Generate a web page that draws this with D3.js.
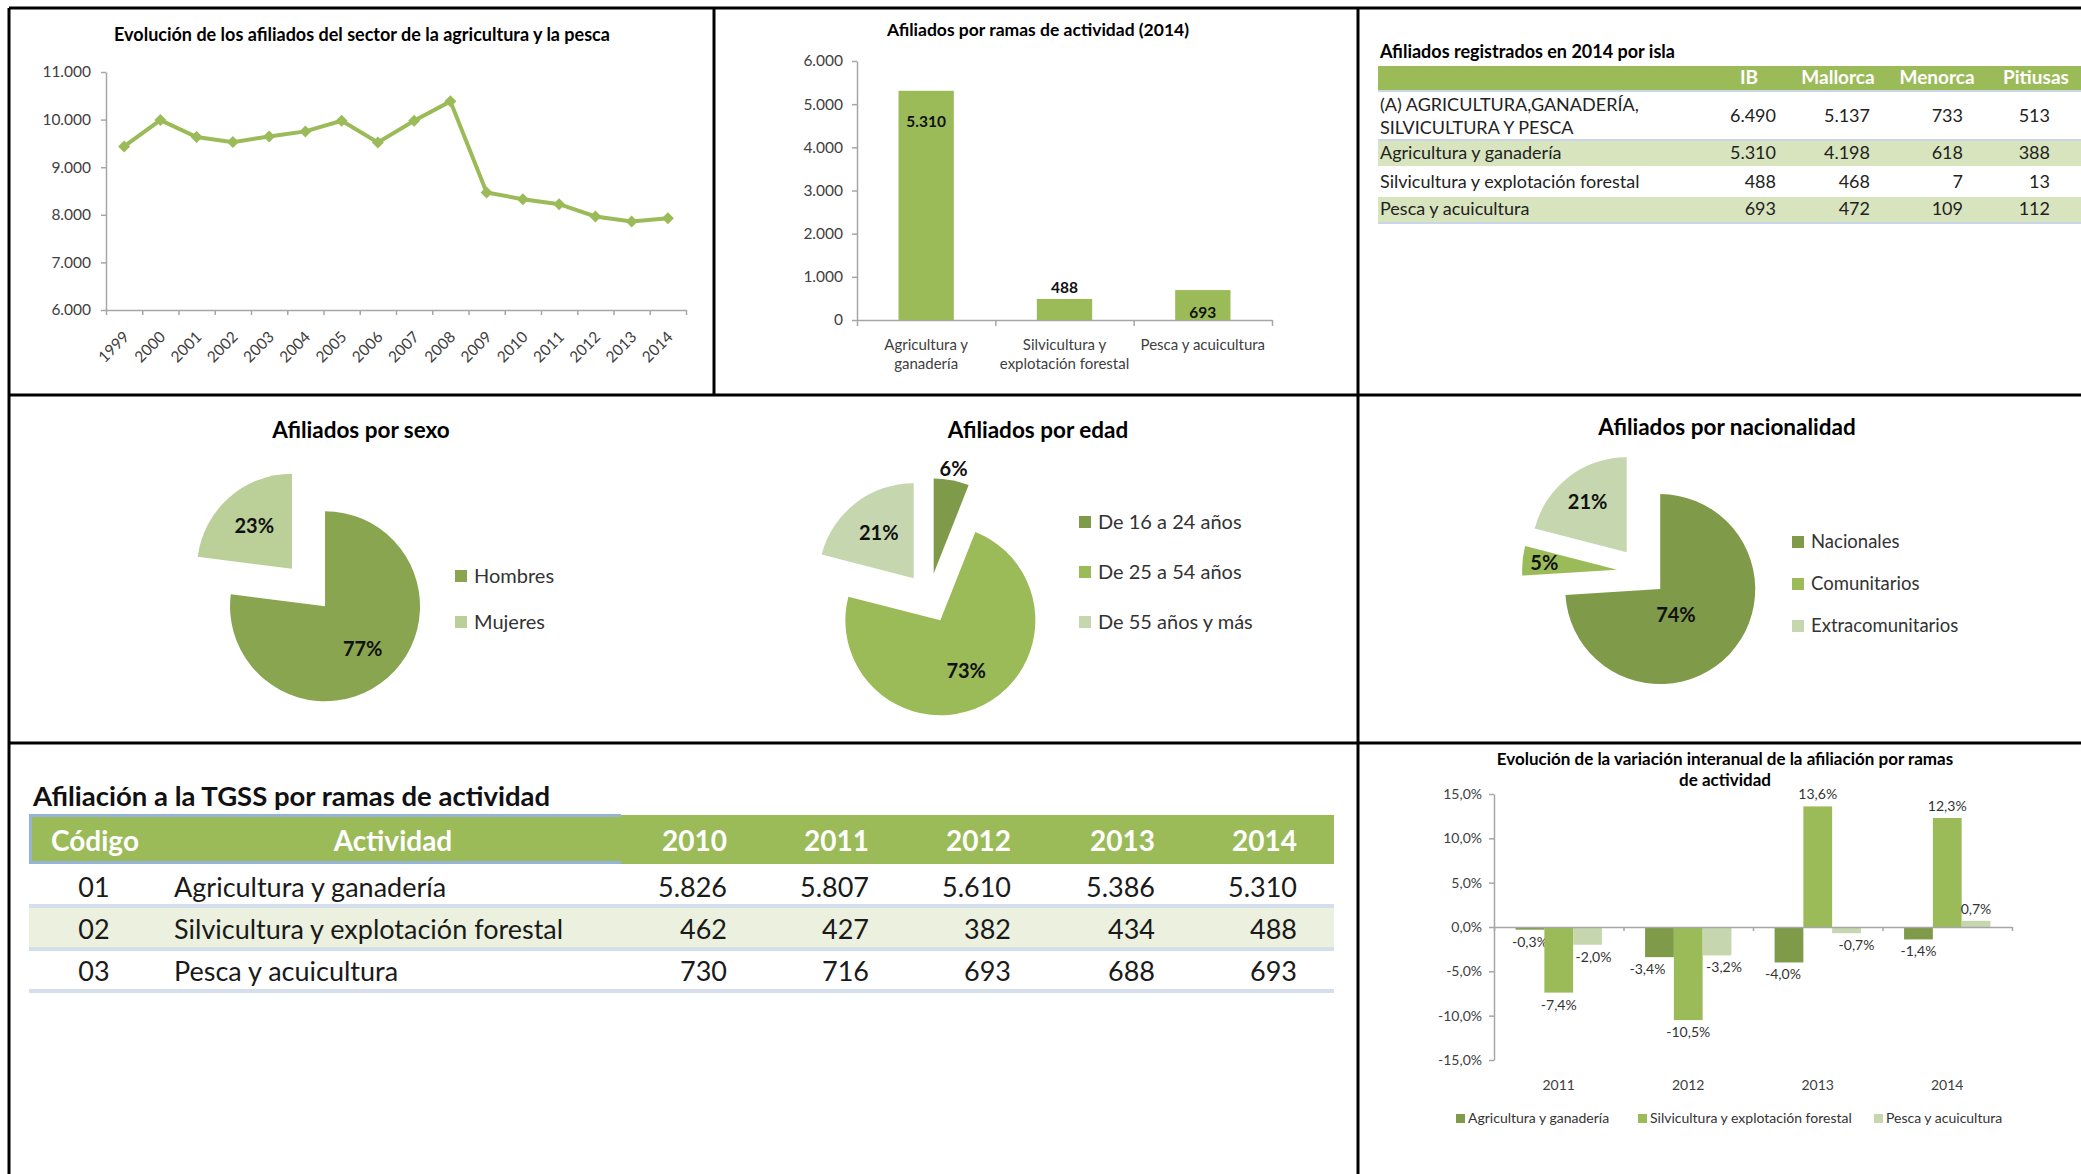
<!DOCTYPE html>
<html>
<head>
<meta charset="utf-8">
<script src="https://cdnjs.cloudflare.com/ajax/libs/d3/7.8.5/d3.min.js"></script>
<style>
  body { margin: 0; background: #fff; }
  svg { display: block; font-family: Lato, "Open Sans", sans-serif; }
</style>
</head>
<body>
<script>
// ---- data ----
var years = ["1999","2000","2001","2002","2003","2004","2005","2006","2007","2008","2009","2010","2011","2012","2013","2014"];
var afiliados = [9436, 9990, 9633, 9527, 9647, 9752, 9976, 9520, 9976, 10383, 8468, 8328, 8223, 7964, 7858, 7928];

var ramas = ["Agricultura y ganadería", "Silvicultura y explotación forestal", "Pesca y acuicultura"];
var ramasLines = [["Agricultura y", "ganadería"], ["Silvicultura y", "explotación forestal"], ["Pesca y acuicultura"]];
var ramas2014 = [5310, 488, 693];

var islas = ["IB", "Mallorca", "Menorca", "Pitiusas"];
var islaRowLines = [["(A) AGRICULTURA,GANADERÍA,", "SILVICULTURA Y PESCA"], ["Agricultura y ganadería"], ["Silvicultura y explotación forestal"], ["Pesca y acuicultura"]];
var islaValues = [[6490, 5137, 733, 513], [5310, 4198, 618, 388], [488, 468, 7, 13], [693, 472, 109, 112]];

var sexo = ["Hombres", "Mujeres"];
var sexoPct = [77, 23];
var edad = ["De 16 a 24 años", "De 25 a 54 años", "De 55 años y más"];
var edadPct = [6, 73, 21];
var nacionalidad = ["Nacionales", "Comunitarios", "Extracomunitarios"];
var nacionalidadPct = [74, 5, 21];

var tgssCodes = ["01", "02", "03"];
var tgssYears = ["2010", "2011", "2012", "2013", "2014"];
var tgssValues = [[5826, 5807, 5610, 5386, 5310], [462, 427, 382, 434, 488], [730, 716, 693, 688, 693]];

var varYears = ["2011", "2012", "2013", "2014"];
var varAgri = [-0.3, -3.4, -4.0, -1.4];
var varSilvi = [-7.4, -10.5, 13.6, 12.3];
var varPesca = [-2.0, -3.2, -0.7, 0.7];

// ---- setup ----
var green = "#9BBB59", dark = "#7F9A48", light = "#C6D6AF";
var axisGrey = "#A6A6A6", tickText = "#404040";

var es = d3.formatLocale({decimal: ",", thousands: ".", grouping: [3], currency: ["", " €"], minus: "-"});
var fmtInt = es.format(",d");
var fmtPct = function(v) { return es.format(".1f")(v) + "%"; };

var svg = d3.select("body").append("svg")
  .attr("width", 2081)
  .attr("height", 1174);

function styleAxis(g, fs) {
  g.attr("font-family", null).attr("font-size", null);
  g.select(".domain").attr("stroke", axisGrey).attr("stroke-width", 1.5);
  g.selectAll(".tick line").attr("stroke", axisGrey).attr("stroke-width", 1.5);
  g.selectAll(".tick text").attr("fill", tickText).style("font-size", fs + "px");
}

function title(x, y, txt, fs) {
  svg.append("text")
    .attr("x", x).attr("y", y)
    .attr("text-anchor", "middle")
    .attr("font-weight", 700)
    .attr("font-size", fs)
    .attr("fill", "#000")
    .text(txt);
}

// panel borders
var borders = [[9, 8, 2081, 8], [9, 8, 9, 1174], [714, 8, 714, 395], [1358, 8, 1358, 1174], [9, 395, 2081, 395], [9, 743, 2081, 743]];
svg.selectAll("line.border")
  .data(borders)
  .enter().append("line")
  .attr("x1", d => d[0]).attr("y1", d => d[1])
  .attr("x2", d => d[2]).attr("y2", d => d[3])
  .attr("stroke", "#000").attr("stroke-width", 3);

// ---- 1. line chart ----
title(362, 41, "Evolución de los afiliados del sector de la agricultura y la pesca", 18);

var xLine = d3.scaleBand().domain(years).range([106, 686]);
var yLine = d3.scaleLinear().domain([6000, 11000]).range([310, 72]);

svg.append("g")
  .attr("transform", "translate(106,0)")
  .call(d3.axisLeft(yLine).tickValues(d3.range(6000, 11001, 1000)).tickFormat(fmtInt).tickSize(5).tickPadding(10).tickSizeOuter(0))
  .call(styleAxis, 15.5);

var xIdx = d3.scaleLinear().domain([0, years.length]).range(xLine.range());
svg.append("g")
  .attr("transform", "translate(0,310)")
  .call(d3.axisBottom(xIdx).tickValues(d3.range(years.length + 1)).tickFormat("").tickSize(5).tickSizeOuter(0))
  .call(styleAxis, 14);

svg.selectAll("text.year")
  .data(years)
  .enter().append("text")
  .attr("transform", d => `translate(${xLine(d) + xLine.bandwidth() / 2 + 6},${338}) rotate(-45)`)
  .attr("text-anchor", "end")
  .attr("font-size", 15.5)
  .attr("fill", tickText)
  .text(d => d);

var cx = (d, i) => xLine(years[i]) + xLine.bandwidth() / 2;
svg.append("path")
  .datum(afiliados)
  .attr("d", d3.line().x(cx).y(d => yLine(d)))
  .attr("fill", "none")
  .attr("stroke", green)
  .attr("stroke-width", 4);

svg.selectAll("path.marker")
  .data(afiliados)
  .enter().append("path")
  .attr("d", d3.symbol(d3.symbolSquare, 72))
  .attr("transform", (d, i) => `translate(${cx(d, i)},${yLine(d)}) rotate(45)`)
  .attr("fill", green);

// ---- 2. bar chart 2014 ----
title(1038, 36, "Afiliados por ramas de actividad (2014)", 17.5);

var xBar = d3.scaleBand().domain(ramas).range([857, 1272]).paddingInner(0.6).paddingOuter(0.3);
var yBar = d3.scaleLinear().domain([0, 6000]).range([320, 61]);

svg.append("g")
  .attr("transform", "translate(857,0)")
  .call(d3.axisLeft(yBar).tickValues(d3.range(0, 6001, 1000)).tickFormat(fmtInt).tickSize(5).tickPadding(9).tickSizeOuter(0))
  .call(styleAxis, 15.5);

var barIdx = d3.scaleLinear().domain([0, ramas.length]).range(xBar.range());
svg.append("g")
  .attr("transform", "translate(0,320)")
  .call(d3.axisBottom(barIdx).tickValues(d3.range(ramas.length + 1)).tickFormat("").tickSize(6).tickSizeOuter(0))
  .call(styleAxis, 14);

svg.selectAll("rect.rama")
  .data(ramas2014)
  .enter().append("rect")
  .attr("x", (d, i) => xBar(ramas[i]))
  .attr("y", d => yBar(d))
  .attr("width", xBar.bandwidth())
  .attr("height", d => yBar(0) - yBar(d))
  .attr("fill", green);

var barLabelMode = ["inEnd", "outEnd", "inBase"];
svg.selectAll("text.ramaVal")
  .data(ramas2014)
  .enter().append("text")
  .attr("x", (d, i) => xBar(ramas[i]) + xBar.bandwidth() / 2)
  .attr("y", (d, i) => barLabelMode[i] == "inEnd" ? yBar(d) + 36 : barLabelMode[i] == "outEnd" ? yBar(d) - 6 : yBar(0) - 2)
  .attr("text-anchor", "middle")
  .attr("font-weight", 700)
  .attr("font-size", 15.5)
  .attr("fill", "#111")
  .text(d => fmtInt(d));

ramasLines.forEach((lines, i) => {
  lines.forEach((ln, j) => {
    svg.append("text")
      .attr("x", xBar(ramas[i]) + xBar.bandwidth() / 2)
      .attr("y", 350 + j * 19)
      .attr("text-anchor", "middle")
      .attr("font-size", 15)
      .attr("fill", tickText)
      .text(ln);
  });
});

// ---- 3. table por isla ----
svg.append("text")
  .attr("x", 1380).attr("y", 58)
  .attr("font-weight", 700).attr("font-size", 18)
  .text("Afiliados registrados en 2014 por isla");

svg.append("rect").attr("x", 1378).attr("y", 66).attr("width", 703).attr("height", 24).attr("fill", green);
var islaHeadX = [1749, 1838, 1937, 2036];
var islaColRight = [1776, 1870, 1963, 2050];
svg.selectAll("text.isla")
  .data(islas)
  .enter().append("text")
  .attr("x", (d, i) => islaHeadX[i]).attr("y", 84)
  .attr("text-anchor", "middle")
  .attr("font-weight", 700).attr("font-size", 19)
  .attr("fill", "#fff")
  .text(d => d);

var islaRowBand = [[90, 50], [141, 25], [166, 31], [197, 25]];
var islaBase = [122, 159, 188, 215];
islaRowLines.forEach((lines, r) => {
  if (r % 2 == 1) {
    svg.append("rect").attr("x", 1378).attr("y", islaRowBand[r][0]).attr("width", 703).attr("height", islaRowBand[r][1]).attr("fill", "#D7E4BD");
  }
  lines.forEach((ln, j) => {
    svg.append("text")
      .attr("x", 1380)
      .attr("y", islaBase[r] + (j - (lines.length - 1) / 2) * 23)
      .attr("font-size", 18).attr("fill", "#222")
      .text(ln);
  });
  islaValues[r].forEach((v, c) => {
    svg.append("text")
      .attr("x", islaColRight[c]).attr("y", islaBase[r])
      .attr("text-anchor", "end")
      .attr("font-size", 18).attr("fill", "#222")
      .text(fmtInt(v));
  });
});
[91, 140, 223].forEach(y => {
  svg.append("line").attr("x1", 1378).attr("x2", 2081).attr("y1", y).attr("y2", y)
    .attr("stroke", "#C9D6E8").attr("stroke-width", 2);
});

// ---- 4-6. pies ----
function drawPie(cfg) {
  var arcs = d3.pie().sort(null)(cfg.values);
  var arc = d3.arc().innerRadius(0).outerRadius(cfg.r);
  arcs.forEach((d, i) => {
    var a = (d.startAngle + d.endAngle) / 2;
    var ux = Math.sin(a), uy = -Math.cos(a);
    var ox = cfg.cx + ux * cfg.explode, oy = cfg.cy + uy * cfg.explode;
    svg.append("path")
      .attr("d", arc(d))
      .attr("transform", `translate(${ox},${oy})`)
      .attr("fill", cfg.colors[i]);
    svg.append("text")
      .attr("x", ox + ux * cfg.r * cfg.labelF[i] + (cfg.labelDx ? cfg.labelDx[i] : 0))
      .attr("y", oy + uy * cfg.r * cfg.labelF[i])
      .attr("dy", "0.35em")
      .attr("text-anchor", "middle")
      .attr("font-weight", 700).attr("font-size", 20)
      .attr("fill", "#111")
      .text(cfg.values[i] + "%");
  });
  title(cfg.titleX, cfg.titleY, cfg.title, 22.5);
  cfg.names.forEach((n, i) => {
    var y = cfg.legY + i * cfg.legStep;
    svg.append("rect").attr("x", cfg.legX).attr("y", y - 6).attr("width", 12).attr("height", 12).attr("fill", cfg.colors[i]);
    svg.append("text").attr("x", cfg.legX + 19).attr("y", y).attr("dy", "0.35em")
      .attr("font-size", cfg.legFs).attr("fill", "#333").text(n);
  });
}

drawPie({title: "Afiliados por sexo", titleX: 361, titleY: 438, names: sexo, values: sexoPct,
  colors: ["#8AA54F", "#BBCF98"], cx: 308.5, cy: 587.5, r: 95, explode: 25, labelF: [0.6, 0.6],
  legX: 455, legY: 576, legStep: 46, legFs: 20});
drawPie({title: "Afiliados por edad", titleX: 1038, titleY: 438, names: edad, values: edadPct,
  colors: [dark, green, light], cx: 929, cy: 598, r: 95, explode: 25, labelF: [1.12, 0.6, 0.6],
  legX: 1079, legY: 522, legStep: 50, legFs: 20});
drawPie({title: "Afiliados por nacionalidad", titleX: 1727, titleY: 435, names: nacionalidad, values: nacionalidadPct,
  colors: [dark, green, light], cx: 1642, cy: 572, r: 95, explode: 25, labelF: [0.4, 0.77, 0.67], labelDx: [-12, 0, 0],
  legX: 1792, legY: 542, legStep: 42, legFs: 18.5});

// ---- 7. tabla TGSS ----
svg.append("text")
  .attr("x", 33).attr("y", 806)
  .attr("font-weight", 700).attr("font-size", 27.5).attr("fill", "#111")
  .text("Afiliación a la TGSS por ramas de actividad");

svg.append("rect").attr("x", 29).attr("y", 815).attr("width", 1305).attr("height", 49).attr("fill", green);
svg.append("path")
  .attr("d", "M621,815.5 H30.5 V862.5 H621")
  .attr("fill", "none").attr("stroke", "#95B3D7").attr("stroke-width", 3);

var tgssRight = [727, 869, 1011, 1155, 1297];
var headFs = 28;
svg.append("text").attr("x", 95).attr("y", 851).attr("text-anchor", "middle")
  .attr("font-weight", 700).attr("font-size", headFs).attr("fill", "#fff").text("Código");
svg.append("text").attr("x", 393).attr("y", 851).attr("text-anchor", "middle")
  .attr("font-weight", 700).attr("font-size", headFs).attr("fill", "#fff").text("Actividad");
svg.selectAll("text.tgssYear")
  .data(tgssYears)
  .enter().append("text")
  .attr("x", (d, i) => tgssRight[i]).attr("y", 851)
  .attr("text-anchor", "end")
  .attr("font-weight", 700).attr("font-size", headFs).attr("fill", "#fff")
  .text(d => d);

svg.append("rect").attr("x", 29).attr("y", 908).attr("width", 1305).attr("height", 40).attr("fill", "#EBF1DE");
[906, 949, 991].forEach(y => {
  svg.append("line").attr("x1", 29).attr("x2", 1334).attr("y1", y).attr("y2", y)
    .attr("stroke", "#D5DFEC").attr("stroke-width", 4);
});

var tgssBase = [897, 939, 981];
tgssCodes.forEach((code, r) => {
  svg.append("text").attr("x", 94).attr("y", tgssBase[r]).attr("text-anchor", "middle")
    .attr("font-size", 27).attr("fill", "#1a1a1a").text(code);
  svg.append("text").attr("x", 174).attr("y", tgssBase[r])
    .attr("font-size", 27).attr("fill", "#1a1a1a").text(ramas[r]);
  tgssValues[r].forEach((v, c) => {
    svg.append("text").attr("x", tgssRight[c]).attr("y", tgssBase[r]).attr("text-anchor", "end")
      .attr("font-size", 27).attr("fill", "#1a1a1a").text(fmtInt(v));
  });
});

// ---- 8. variación interanual ----
title(1725, 765, "Evolución de la variación interanual de la afiliación por ramas", 17);
title(1725, 786, "de actividad", 17);

var series = [
  {name: ramas[0], values: varAgri, color: dark},
  {name: ramas[1], values: varSilvi, color: green},
  {name: ramas[2], values: varPesca, color: light}
];

var x0 = d3.scaleBand().domain(varYears).range([1494, 2012]);
var bw = x0.bandwidth();
var x1 = d3.scaleBand().domain(d3.range(series.length)).range([bw / 6, bw * 5 / 6]);
var yVar = d3.scaleLinear().domain([-15, 15]).range([1060, 794]);

svg.append("g")
  .attr("transform", "translate(1494,0)")
  .call(d3.axisLeft(yVar).tickValues(d3.range(-15, 15.1, 5)).tickFormat(fmtPct).tickSize(5).tickPadding(7).tickSizeOuter(0))
  .call(styleAxis, 14);

// small horizontal nudges where Excel moved colliding labels
var labelDx = [[0, -12, -6, 0], [0, 0, 0, 0], [6, 7, 10, 0]];
series.forEach((s, k) => {
  svg.selectAll("rect.s" + k)
    .data(s.values)
    .enter().append("rect")
    .attr("x", (d, i) => x0(varYears[i]) + x1(k))
    .attr("y", d => yVar(Math.max(0, d)))
    .attr("width", x1.bandwidth())
    .attr("height", d => Math.abs(yVar(d) - yVar(0)))
    .attr("fill", s.color);
  svg.selectAll("text.s" + k)
    .data(s.values)
    .enter().append("text")
    .attr("x", (d, i) => x0(varYears[i]) + x1(k) + x1.bandwidth() / 2 + labelDx[k][i])
    .attr("y", d => d >= 0 ? yVar(d) - 7 : yVar(d) + 17)
    .attr("text-anchor", "middle")
    .attr("font-size", 14).attr("fill", "#333")
    .text(d => fmtPct(d));
});

var varIdx = d3.scaleLinear().domain([0, varYears.length]).range(x0.range());
svg.append("g")
  .attr("transform", `translate(0,${yVar(0)})`)
  .call(d3.axisBottom(varIdx).tickValues(d3.range(varYears.length + 1)).tickFormat("").tickSize(4).tickSizeOuter(0))
  .call(styleAxis, 14);

svg.selectAll("text.varYear")
  .data(varYears)
  .enter().append("text")
  .attr("x", d => x0(d) + bw / 2).attr("y", 1090)
  .attr("text-anchor", "middle")
  .attr("font-size", 14).attr("fill", tickText)
  .text(d => d);

var legX = [1456, 1638, 1874];
series.forEach((s, k) => {
  svg.append("rect").attr("x", legX[k]).attr("y", 1114).attr("width", 9).attr("height", 9).attr("fill", s.color);
  svg.append("text").attr("x", legX[k] + 12).attr("y", 1118.5).attr("dy", "0.35em")
    .attr("font-size", 14).attr("fill", "#333").text(s.name);
});
</script>
</body>
</html>
